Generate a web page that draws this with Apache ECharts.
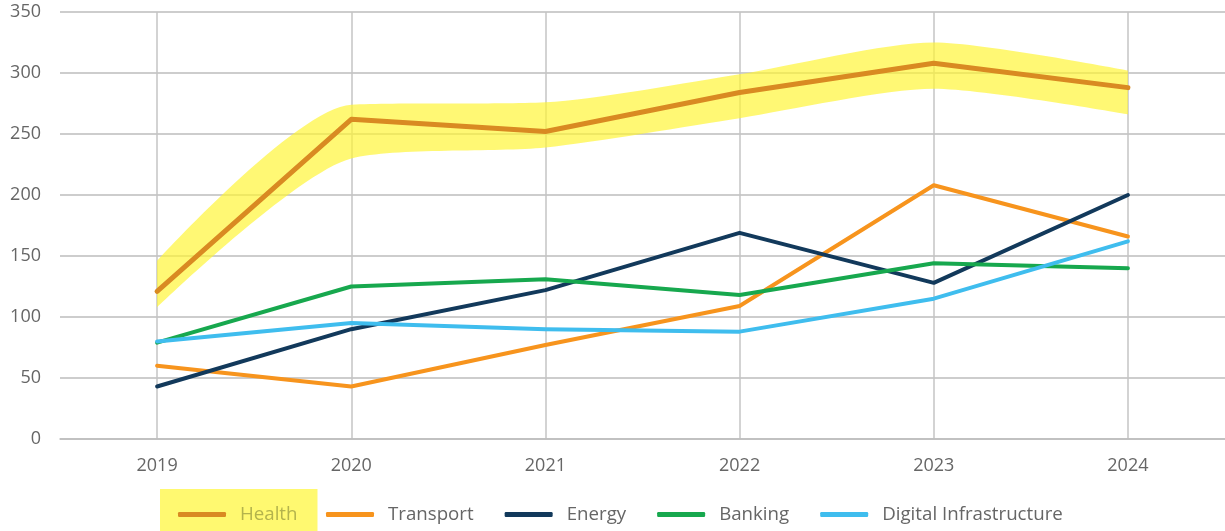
<!DOCTYPE html>
<html><head><meta charset="utf-8">
<script src="https://cdn.jsdelivr.net/npm/echarts@6/dist/echarts.min.js"></script>
<style>html,body{margin:0;padding:0;background:#fff}#c{width:1225px;height:531px}</style>
</head><body><div id="c"></div>
<script>
const years = ['2019','2020','2021','2022','2023','2024'];
const health = [121, 262, 252, 284, 308, 288];
const transport = [60, 43, 77, 109, 208, 166];
const energy = [43, 90, 122, 169, 128, 200];
const banking = [79, 125, 131, 118, 144, 140];
const digital = [80, 95, 90, 88, 115, 162];
// hand-drawn highlight band around Health (lower and upper edge)
const highlightLow = [108, 230, 239, 263, 287, 266];
const highlightHigh = [146, 274, 276, 299, 325, 302];
const yTicks = [0, 50, 100, 150, 200, 250, 300, 350];

const font = 'Open Sans';
const chart = echarts.init(document.getElementById('c'));
function line(name, data, color, width, z) {
  return {name, type:'line', data, symbol:'none', z: z||3,
    lineStyle:{color, width, cap:'round', join:'round'}, itemStyle:{color}};
}
const bandSize = highlightHigh.map((h, i) => h - highlightLow[i]);
chart.setOption({
  animation:false,
  grid:{left:60, right:0, top:12, bottom:92, containLabel:false},
  xAxis:{type:'category', data:years, boundaryGap:true,
    axisLine:{show:true, lineStyle:{color:'#bdbdbd', width:1.5}},
    axisTick:{show:false, alignWithLabel:true},
    axisLabel:{color:'#666', fontFamily:font, fontSize:18, margin:18},
    splitLine:{show:true, alignWithLabel:true, lineStyle:{color:'#c4c4c4', width:1.5}}},
  yAxis:{type:'value', min:0, max:350, interval:50,
    axisLine:{show:false}, axisTick:{show:false},
    axisLabel:{color:'#666', fontFamily:font, fontSize:18, margin:19,
      formatter: v => yTicks.includes(v) ? String(v) : ''},
    splitLine:{lineStyle:{color:'#bdbdbd', width:1.5}}},
  legend:[
    {data:['Health'], left:160, top:489, padding:[16,20,14,18], backgroundColor:'rgba(255,249,112,1)',
      icon:'roundRect', itemWidth:48, itemHeight:5, itemGap:28,
      textStyle:{color:'#b3b34c', fontFamily:font, fontSize:18.7, padding:[0,0,0,9]}},
    {data:['Transport','Energy','Banking','Digital Infrastructure'], left:326, top:489, padding:[16,5,14,0],
      icon:'roundRect', itemWidth:48, itemHeight:5, itemGap:31,
      textStyle:{color:'#666', fontFamily:font, fontSize:18.7, padding:[0,0,0,9]}}
  ],
  series:[
    {name:'hlBase', type:'line', data:highlightLow, stack:'hl', symbol:'none', silent:true, z:1, smooth:0.25,
      lineStyle:{width:0, opacity:0}},
    {name:'hlBand', type:'line', data:bandSize, stack:'hl', symbol:'none', silent:true, z:1, smooth:0.25,
      lineStyle:{width:0, opacity:0}, areaStyle:{color:'rgba(255,245,50,0.68)', opacity:1}},
    line('Health', health, '#d98a22', 5, 4),
    line('Transport', transport, '#f7941d', 4),
    line('Energy', energy, '#12395b', 4),
    line('Banking', banking, '#17a84e', 4),
    line('Digital Infrastructure', digital, '#3fbdee', 4)
  ]
});
</script></body></html>
